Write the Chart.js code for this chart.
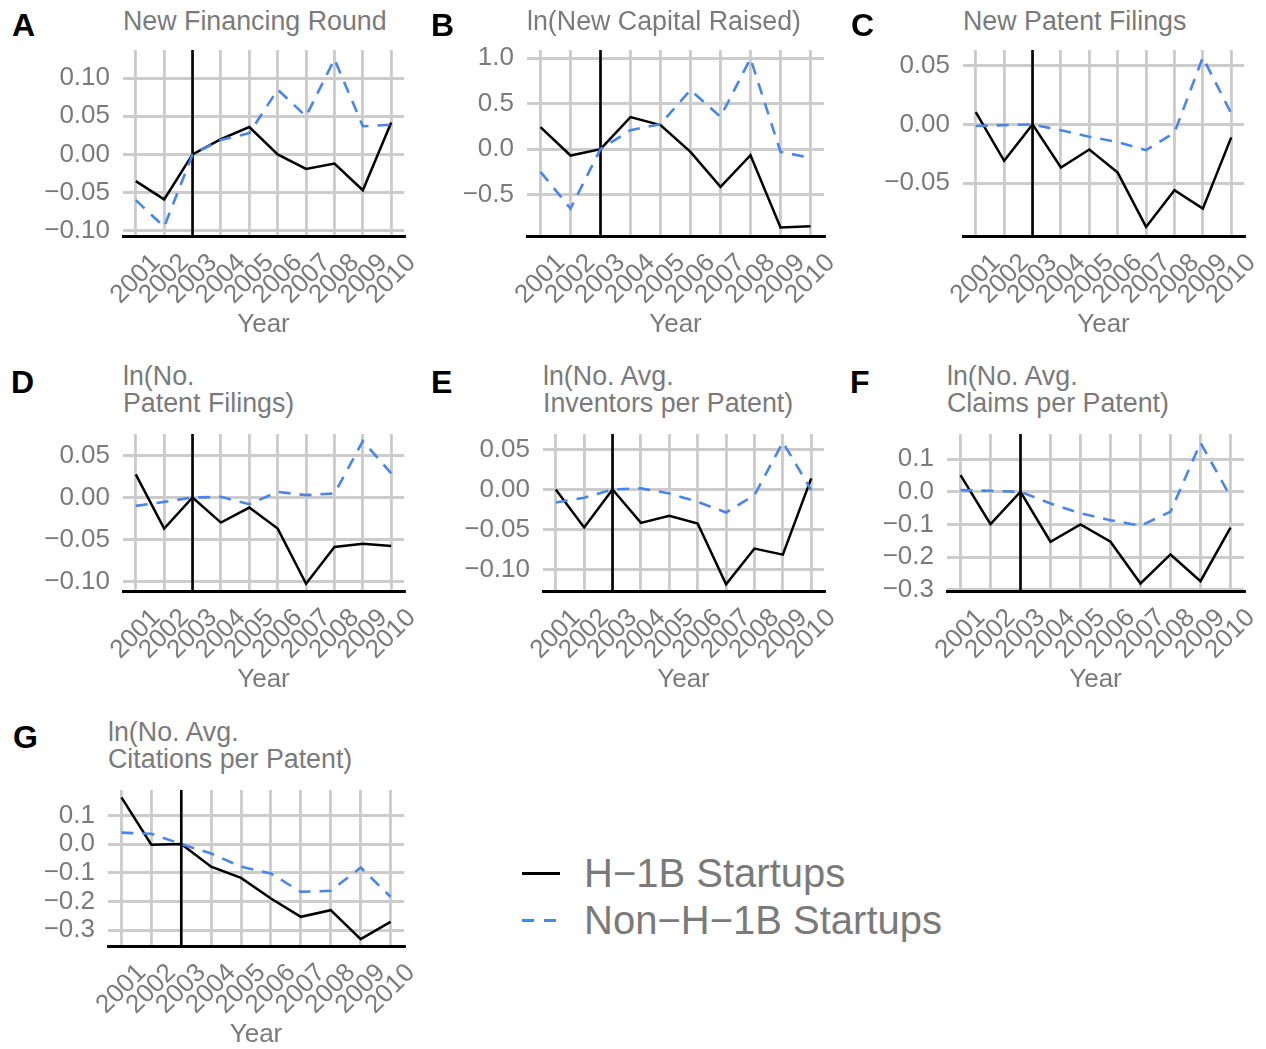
<!DOCTYPE html>
<html>
<head>
<meta charset="utf-8">
<title>H-1B startups: event-study outcomes</title>
<script src="https://cdn.jsdelivr.net/npm/chart.js@4/dist/chart.umd.min.js"></script>
<style>
  html, body { margin: 0; padding: 0; background: #ffffff; }
  body { position: relative; width: 1266px; height: 1049px; overflow: hidden;
         font-family: "Liberation Sans", Arial, sans-serif; }
  canvas.panel { position: absolute; }
  .txt { position: absolute; white-space: nowrap; color: #7a7a7a; }
  .letter { position: absolute; white-space: nowrap; color: #000000; font-weight: bold; }
  .key { position: absolute; height: 3px; }
</style>
</head>
<body>
<script>
// ---- data ----
const years = [2001, 2002, 2003, 2004, 2005, 2006, 2007, 2008, 2009, 2010];
const treatYear = 2003;
const seriesNames = ['H\u22121B Startups', 'Non\u2212H\u22121B Startups'];

const financingH1b = [-0.035, -0.059, 0, 0.020, 0.036, 0.000, -0.019, -0.012, -0.047, 0.042];
const financingNon = [-0.060, -0.095, 0, 0.019, 0.028, 0.085, 0.050, 0.125, 0.037, 0.039];

const capitalH1b = [0.242, -0.070, 0, 0.352, 0.264, -0.030, -0.414, -0.066, -0.860, -0.846];
const capitalNon = [-0.249, -0.652, 0, 0.209, 0.275, 0.648, 0.355, 0.995, -0.030, -0.095];

const newPatentH1b = [0.0105, -0.031, 0, -0.0366, -0.0213, -0.041, -0.0872, -0.056, -0.0716, -0.011];
const newPatentNon = [-0.0014, -0.0006, 0, -0.005, -0.0105, -0.015, -0.0219, -0.007, 0.057, 0.0094];

const numPatentH1b = [0.0274, -0.0369, 0, -0.0298, -0.0119, -0.0369, -0.1024, -0.0587, -0.0548, -0.0575];
const numPatentNon = [-0.0099, -0.0052, 0, 0.0008, -0.0079, 0.0067, 0.0028, 0.0048, 0.067, 0.0286];

const inventorsH1b = [0, -0.0476, 0, -0.0418, -0.033, -0.0426, -0.1186, -0.0739, -0.0815, 0.0138];
const inventorsNon = [-0.0163, -0.0104, 0, 0.0013, -0.005, -0.0155, -0.0288, -0.0071, 0.059, -0.0008];

const claimsH1b = [0.051, -0.099, 0, -0.153, -0.100, -0.153, -0.281, -0.192, -0.274, -0.110];
const claimsNon = [0.005, 0.003, 0, -0.036, -0.066, -0.087, -0.104, -0.061, 0.150, -0.015];

const citationsH1b = [0.163, -0.002, 0, -0.079, -0.118, -0.190, -0.254, -0.231, -0.332, -0.272];
const citationsNon = [0.040, 0.036, 0, -0.033, -0.079, -0.103, -0.167, -0.163, -0.082, -0.184];

// y-axis tick values for each panel
const ticksA = [-0.10, -0.05, 0, 0.05, 0.10];
const ticksB = [-0.5, 0, 0.5, 1.0];
const ticksC = [-0.05, 0, 0.05];
const ticksD = [-0.10, -0.05, 0, 0.05];
const ticksE = [-0.10, -0.05, 0, 0.05];
const ticksF = [-0.3, -0.2, -0.1, 0, 0.1];
const ticksG = [-0.3, -0.2, -0.1, 0, 0.1];

// ---- styling ----
const FONT = '"Liberation Sans", Arial, sans-serif';
const TEXT_GREY = '#7a7a7a';
const GRID_GREY = '#cccccc';
const BLUE = '#4a86e8';

// panel frames: plot-area edges in page pixels, y limits, letter x position
const panels = [
  { letter: 'A', title: ['New Financing Round'], h1b: financingH1b, non: financingNon, ticks: ticksA, dec: 2,
    yMin: -0.107, yMax: 0.137, l: 123, r: 404, t: 50, b: 236, lx: 12, titleBase: 31, letterBase: 36 },
  { letter: 'B', title: ['ln(New Capital Raised)'], h1b: capitalH1b, non: capitalNon, ticks: ticksB, dec: 1,
    yMin: -0.953, yMax: 1.088, l: 527, r: 824, t: 50, b: 236, lx: 431, titleBase: 31, letterBase: 36 },
  { letter: 'C', title: ['New Patent Filings'], h1b: newPatentH1b, non: newPatentNon, ticks: ticksC, dec: 2,
    yMin: -0.0949, yMax: 0.0633, l: 963, r: 1244, t: 50, b: 236, lx: 851, titleBase: 31, letterBase: 36 },
  { letter: 'D', title: ['ln(No.', 'Patent Filings)'], h1b: numPatentH1b, non: numPatentNon, ticks: ticksD, dec: 2,
    yMin: -0.111, yMax: 0.0754, l: 123, r: 404, t: 434, b: 591, lx: 11, titleBase: 386, letterBase: 393 },
  { letter: 'E', title: ['ln(No. Avg.', 'Inventors per Patent)'], h1b: inventorsH1b, non: inventorsNon, ticks: ticksE, dec: 2,
    yMin: -0.127, yMax: 0.0693, l: 543, r: 824, t: 434, b: 591, lx: 431, titleBase: 386, letterBase: 393 },
  { letter: 'F', title: ['ln(No. Avg.', 'Claims per Patent)'], h1b: claimsH1b, non: claimsNon, ticks: ticksF, dec: 1,
    yMin: -0.304, yMax: 0.177, l: 947, r: 1244, t: 434, b: 591, lx: 850, titleBase: 386, letterBase: 393 },
  { letter: 'G', title: ['ln(No. Avg.', 'Citations per Patent)'], h1b: citationsH1b, non: citationsNon, ticks: ticksG, dec: 1,
    yMin: -0.356, yMax: 0.189, l: 108, r: 404, t: 790, b: 946, lx: 13, titleBase: 742, letterBase: 748 }
];

const Y_AXIS_W = 100, X_AXIS_H = 110;
const PAD = { left: 5, right: 20, top: 5, bottom: 0 };

// places a single line of text so that its baseline sits at `base`
function addText(cls, str, x, base, size) {
  const d = document.createElement('div');
  d.className = cls;
  d.textContent = str;
  d.style.fontSize = size + 'px';
  d.style.lineHeight = size + 'px';
  d.style.left = x + 'px';
  d.style.top = (base - 0.8465 * size) + 'px';
  document.body.appendChild(d);
  return d;
}

function fmtTick(v, dec) {
  const s = Math.abs(v).toFixed(dec);
  return (v < -1e-9 ? '\u2212' : '') + s;
}

// vertical reference line at the treatment year
const refLine = {
  id: 'refLine',
  beforeDatasetsDraw(chart) {
    const { ctx, chartArea: a, scales: { x } } = chart;
    const px = x.getPixelForValue(treatYear);
    ctx.save();
    ctx.strokeStyle = '#000000';
    ctx.lineWidth = 2.6;
    ctx.beginPath();
    ctx.moveTo(px, a.top);
    ctx.lineTo(px, a.bottom);
    ctx.stroke();
    ctx.restore();
  }
};

// fixed axis sizes; no extra label overhang reserved around the plot area
function fixX(s) { s.height = X_AXIS_H; s.paddingLeft = 0; s.paddingRight = 0; s.paddingTop = 0; s.paddingBottom = 0; }
function fixY(s) { s.width = Y_AXIS_W; s.paddingLeft = 0; s.paddingRight = 0; s.paddingTop = 0; s.paddingBottom = 0; }

panels.forEach(p => {
  const cv = document.createElement('canvas');
  cv.className = 'panel';
  const left = p.l - Y_AXIS_W - PAD.left;
  const top = p.t - PAD.top;
  const w = (p.r - p.l) + Y_AXIS_W + PAD.left + PAD.right;
  const h = (p.b - p.t) + X_AXIS_H + PAD.top + PAD.bottom;
  cv.width = w; cv.height = h;
  cv.style.left = left + 'px'; cv.style.top = top + 'px';
  cv.style.width = w + 'px'; cv.style.height = h + 'px';
  document.body.appendChild(cv);

  const tickFont = { family: FONT, size: 26 };

  new Chart(cv, {
    type: 'line',
    data: {
      datasets: [
        { label: seriesNames[0], data: years.map((yr, i) => ({ x: yr, y: p.h1b[i] })),
          borderColor: '#000000', borderWidth: 2.5, pointRadius: 0, tension: 0, order: 1 },
        { label: seriesNames[1], data: years.map((yr, i) => ({ x: yr, y: p.non[i] })),
          borderColor: BLUE, borderWidth: 2.6, borderDash: [12, 9], pointRadius: 0, tension: 0, order: 0 }
      ]
    },
    options: {
      responsive: false, animation: false, devicePixelRatio: 1,
      layout: { padding: PAD },
      plugins: { legend: { display: false }, tooltip: { enabled: false } },
      scales: {
        x: {
          type: 'linear', min: years[0] - 0.45, max: years[years.length - 1] + 0.45,
          afterBuildTicks: s => { s.ticks = years.map(v => ({ value: v })); },
          afterFit: fixX,
          grid: { color: GRID_GREY, lineWidth: 2.9, drawTicks: false },
          border: { display: true, color: '#000000', width: 3 },
          ticks: { autoSkip: false, minRotation: 45, maxRotation: 45, padding: 11.6, labelOffset: 20.4,
                   color: TEXT_GREY, font: tickFont, callback: v => String(v) },
          title: { display: true, text: 'Year', color: TEXT_GREY, font: tickFont, padding: { top: 0, bottom: 6 } }
        },
        y: {
          min: p.yMin, max: p.yMax,
          afterBuildTicks: s => { s.ticks = p.ticks.map(v => ({ value: v })); },
          afterFit: fixY,
          grid: { color: GRID_GREY, lineWidth: 2.9, drawTicks: false },
          border: { display: false },
          ticks: { autoSkip: false, padding: 13, color: TEXT_GREY, font: tickFont,
                   callback: v => fmtTick(v, p.dec) }
        }
      }
    },
    plugins: [refLine]
  });

  p.title.forEach((line, i) => addText('txt', line, p.l, p.titleBase + i * 27, 26.8));
  addText('letter', p.letter, p.lx, p.letterBase, 32);
});

// legend
function addKey(x, y, w, color) {
  const k = document.createElement('div');
  k.className = 'key';
  k.style.left = x + 'px'; k.style.top = (y - 1.5) + 'px';
  k.style.width = w + 'px'; k.style.background = color;
  document.body.appendChild(k);
}
addKey(521.5, 873.5, 38, '#000000');
addKey(521.5, 920.5, 12.5, BLUE);
addKey(543.5, 920.5, 12.5, BLUE);
addText('txt', seriesNames[0], 584, 887, 40);
addText('txt', seriesNames[1], 584, 934, 40);
</script>
</body>
</html>
